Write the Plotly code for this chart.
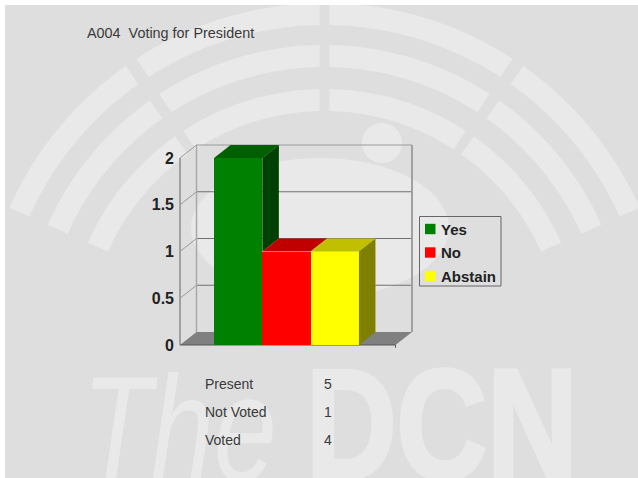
import math
import plotly.graph_objects as go

# ---- data ----
categories = ["Yes", "No", "Abstain"]
votes = [2, 1, 1]
front_colors = ["#008000", "#ff0000", "#ffff00"]
top_colors = ["#006000", "#c00000", "#c0c000"]
side_colors = ["#004000", "#800000", "#808000"]
y_ticks = [0, 0.5, 1, 1.5, 2]
y_tick_labels = ["0", "0.5", "1", "1.5", "2"]
title_text = "A004\u00a0\u00a0Voting for President"
stat_names = ["Present", "Not Voted", "Voted"]
stat_values = [5, 1, 4]

# ---- layout geometry ----
W, H = 638, 478
PL, PR, PT, PB = 175, 416, 141, 349      # plot area in page pixels
X_UNIT, Y_UNIT = 48.3, 93.5              # pixels per bar / per vote
X0_PX, Y0_PX = 238.2, 345.0              # where bar 0 centre and value 0 land
DX, DY = 16.5 / X_UNIT, 13 / Y_UNIT      # depth of the 3D effect
x_range = [(PL - X0_PX) / X_UNIT, (PR - X0_PX) / X_UNIT]
y_range = [(Y0_PX - PB) / Y_UNIT, (Y0_PX - PT) / Y_UNIT]
WALL_L = (180 - X0_PX) / X_UNIT
WALL_R = (395.5 - X0_PX) / X_UNIT

BG, MARK = "#dedede", "#e9e9e9"


def px(x):
    return (x - PL) / (PR - PL)


def py(y):
    return (PB - y) / (PB - PT)


def poly(points):
    return "M " + " L ".join(f"{px(x):.5f},{py(y):.5f}" for x, y in points) + " Z"


def paper_shape(path, color):
    return dict(type="path", path=path, xref="paper", yref="paper",
                fillcolor=color, line_width=0, layer="below")


shapes = []
CX, CY = 324.5, 348
rings = [(345, 323), (303, 281), (259, 237)]
for r_out, r_in in rings:
    for sign in (-1, 1):
        pts = []
        a_o, a_i = math.asin(5 / r_out), math.asin(5 / r_in)
        end = math.radians(33)
        for k in range(31):
            a = a_o + (end - a_o) * k / 30
            pts.append((CX + sign * r_out * math.sin(a), CY - r_out * math.cos(a)))
        for k in range(30, -1, -1):
            a = a_i + (end - a_i) * k / 30
            pts.append((CX + sign * r_in * math.sin(a), CY - r_in * math.cos(a)))
        shapes.append(paper_shape(poly(pts), MARK))
        pts = []
        a0, a1 = math.radians(35.2), math.radians(66)
        for k in range(31):
            a = a0 + (a1 - a0) * k / 30
            pts.append((CX + sign * r_out * math.sin(a), CY - r_out * math.cos(a)))
        for k in range(30, -1, -1):
            a = a0 + (a1 - a0) * k / 30
            pts.append((CX + sign * r_in * math.sin(a), CY - r_in * math.cos(a)))
        shapes.append(paper_shape(poly(pts), MARK))

for cx, cy, rx, ry in [(382, 143, 20, 20), (320, 228, 129, 70)]:
    shapes.append(dict(type="circle", xref="paper", yref="paper",
                       x0=px(cx - rx), x1=px(cx + rx), y0=py(cy + ry), y1=py(cy - ry),
                       fillcolor=MARK, line_width=0, layer="below"))

shapes.append(paper_shape(poly([(0, 0), (W, 0), (W, 5), (0, 5)]), "#ffffff"))
shapes.append(paper_shape(poly([(0, 0), (5, 0), (5, H), (0, H)]), "#ffffff"))


def data_line(x0, y0, x1, y1, color, width):
    shapes.append(dict(type="line", xref="x", yref="y", x0=x0, y0=y0, x1=x1, y1=y1,
                       line=dict(color=color, width=width), layer="below"))


shapes.append(dict(type="path", xref="x", yref="y", layer="below",
                   path=f"M {WALL_L},0 L {WALL_R},0 L {WALL_R + DX},{DY} L {WALL_L + DX},{DY} Z",
                   fillcolor="#808080", line_width=0))
for t in y_ticks:
    if t > 0:
        data_line(WALL_L + DX, t + DY, WALL_R + DX, t + DY,
                  "#9a9a9a" if t == max(y_ticks) else "#707070", 1.2)
        data_line(WALL_L, t, WALL_L + DX, t + DY, "#999999", 1)
top = max(y_ticks)
data_line(WALL_L, 0, WALL_L, top, "#a0a0a0", 2)
data_line(WALL_L + DX, DY, WALL_L + DX, top + DY, "#a8a8a8", 1.5)
data_line(WALL_R + DX, DY, WALL_R + DX, top + DY, "#a0a0a0", 2)
data_line(WALL_L, 0, WALL_R, 0, "#555555", 1.2)
data_line(WALL_R, 0, WALL_R, -0.03, "#555555", 1)

fig = go.Figure()
xs = list(range(len(categories)))
fig.add_trace(go.Bar(x=xs, y=votes, width=1, marker=dict(color=front_colors, line_width=0),
                     hoverinfo="skip", showlegend=False))

for i, v in enumerate(votes):
    xl, xr = i - 0.5, i + 0.5
    fig.add_trace(go.Scatter(x=[xl, xr, xr + DX, xl + DX, xl], y=[v, v, v + DY, v + DY, v],
                             mode="lines", fill="toself", fillcolor=top_colors[i],
                             line=dict(width=0), hoverinfo="skip", showlegend=False))
    nxt = votes[i + 1] if i + 1 < len(votes) else 0
    if v > nxt:
        fig.add_trace(go.Scatter(x=[xr, xr + DX, xr + DX, xr, xr],
                                 y=[v, v + DY, nxt + DY, nxt, v],
                                 mode="lines", fill="toself", fillcolor=side_colors[i],
                                 line=dict(width=0), hoverinfo="skip", showlegend=False))

annotations = []


def page_text(x, y, text, size, color, bold=False, family="Liberation Sans", anchor="left"):
    annotations.append(dict(xref="paper", yref="paper", x=px(x), y=py(y), text=text,
                            showarrow=False, xanchor=anchor, yanchor="middle", borderpad=0,
                            font=dict(family=family, size=size, color=color,
                                      weight="bold" if bold else "normal")))


annotations.append(dict(xref="paper", yref="paper", x=px(179), y=py(429), text="The",
                        showarrow=False, xanchor="center", yanchor="middle", borderpad=0,
                        font=dict(family="Liberation Sans", size=150, color=MARK, style="italic")))
annotations.append(dict(xref="paper", yref="paper", x=px(442), y=py(424.5), text="DCN",
                        showarrow=False, xanchor="center", yanchor="middle", borderpad=0,
                        font=dict(family="Liberation Sans", size=155, color=MARK, weight=700)))

for name, val, y in zip(stat_names, stat_values, (384, 412, 440)):
    page_text(204, y, name, 14, "#3a3a3a")
    page_text(323, y, str(val), 14, "#3a3a3a")

LX0, LX1, LY0, LY1 = 419.5, 501, 216.5, 286
shapes.append(dict(type="rect", xref="paper", yref="paper", x0=px(LX0), x1=px(LX1),
                   y0=py(LY1), y1=py(LY0), line=dict(color="#666666", width=1), layer="above"))
for name, col, y in zip(categories, front_colors, (229, 252.5, 276)):
    shapes.append(dict(type="rect", xref="paper", yref="paper", x0=px(425), x1=px(435.5),
                       y0=py(y + 5.2), y1=py(y - 5.2), fillcolor=col, line_width=0, layer="above"))
    page_text(439.5, y, name, 15, "#222222", bold=True)

fig.update_layout(
    width=W, height=H, autosize=False,
    margin=dict(l=PL, r=W - PR, t=PT, b=H - PB, pad=0),
    paper_bgcolor=BG, plot_bgcolor="rgba(0,0,0,0)",
    showlegend=False, bargap=0, shapes=shapes, annotations=annotations,
    title=dict(text=title_text, x=87 / W, xanchor="left", xref="container",
               y=1 - 33 / H, yanchor="middle", yref="container",
               font=dict(family="Liberation Sans", size=14.4, color="#3a3a3a")),
    xaxis=dict(range=x_range, showgrid=False, zeroline=False, showticklabels=False,
               ticks="", showline=False),
    yaxis=dict(range=y_range, tickmode="array", tickvals=y_ticks, ticktext=y_tick_labels,
               showgrid=False, zeroline=False, showline=False, ticks="",
               tickfont=dict(family="Liberation Sans", size=16, color="#222222", weight="bold")),
)
post = """
document.body.style.margin='0';document.body.style.overflow='hidden';
function squeeze(){
  document.querySelectorAll('.annotation-text').forEach(function(t){
    var word=t.getAttribute('data-unformatted');
    var len={'The':195,'DCN':272}[word];
    if(len){t.setAttribute('textLength',len);t.setAttribute('lengthAdjust','spacingAndGlyphs');}
    if(word==='DCN'){t.style.stroke='#e9e9e9';t.style.strokeWidth='4px';}
  });
}
squeeze();setTimeout(squeeze,50);
"""
fig.write_html("out.html", config=dict(displayModeBar=False), post_script=post)
